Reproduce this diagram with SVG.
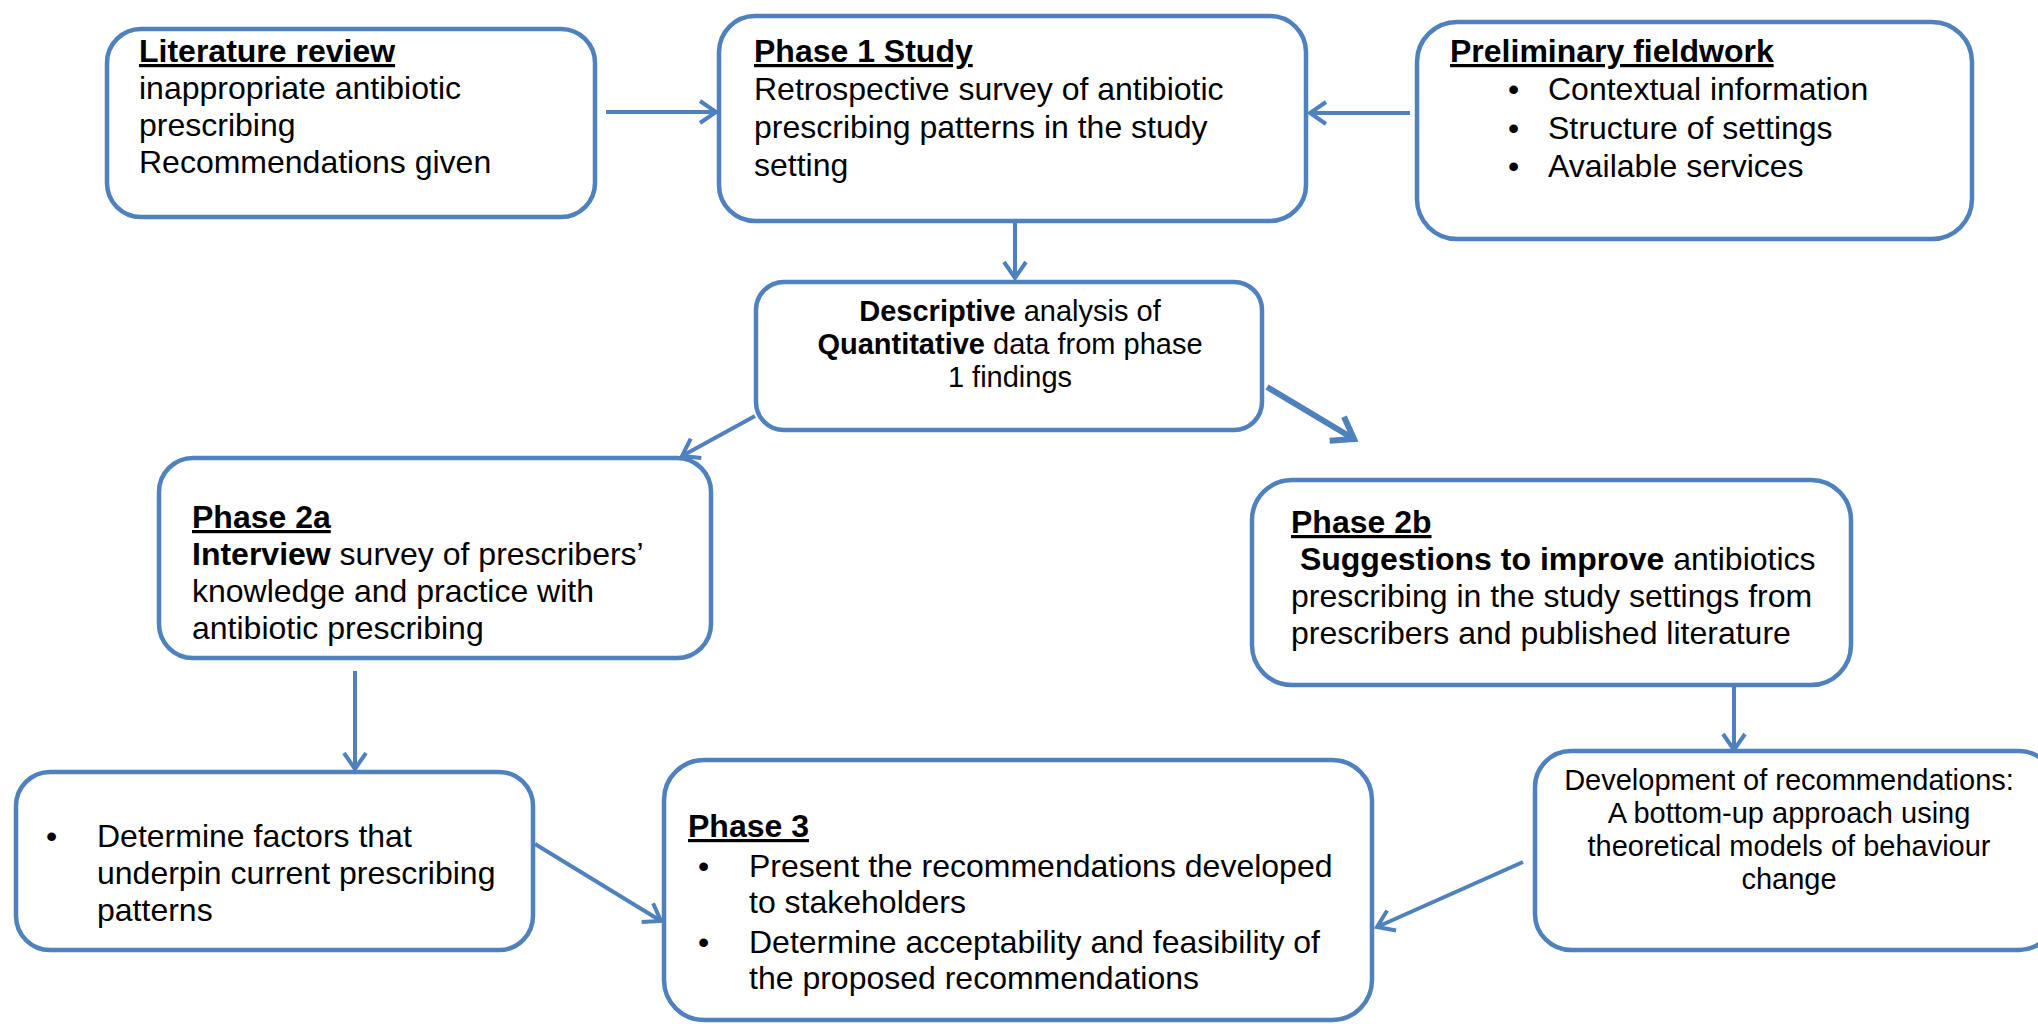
<svg xmlns="http://www.w3.org/2000/svg" width="2038" height="1024" viewBox="0 0 2038 1024">
<style>
.box{fill:#fff;stroke:#4F81BD;stroke-width:4.5}
.t{font-family:"Liberation Sans",Arial,sans-serif;font-size:32px;fill:#000}
.s{font-size:29px}
.b{font-weight:bold}
.u{font-weight:bold;text-decoration:underline}
.c{text-anchor:middle}
.con{stroke:#4F81BD;stroke-width:4;fill:none}
</style>
<defs>
<marker id="ah" markerUnits="userSpaceOnUse" markerWidth="30" markerHeight="30" viewBox="0 0 30 30" refX="26" refY="15" orient="auto">
<path d="M10,4 L26,15 L10,26" fill="none" stroke="#4F81BD" stroke-width="4"/>
</marker>
<marker id="ahb" markerUnits="userSpaceOnUse" markerWidth="40" markerHeight="40" viewBox="0 0 40 40" refX="34" refY="20" orient="auto">
<path d="M14,6 L34,20 L14,34" fill="none" stroke="#4F81BD" stroke-width="6"/>
</marker>
</defs>
<rect width="2038" height="1024" fill="#fff"/>
<g id="connectors">
<line class="con" x1="606" y1="112" x2="716" y2="112" marker-end="url(#ah)"/>
<line class="con" x1="1410" y1="113" x2="1310" y2="113" marker-end="url(#ah)"/>
<line class="con" x1="1015" y1="221" x2="1015" y2="278" marker-end="url(#ah)"/>
<line class="con" x1="755" y1="416" x2="682" y2="456" marker-end="url(#ah)"/>
<line class="con" style="stroke-width:6" x1="1267" y1="387" x2="1354" y2="439" marker-end="url(#ahb)"/>
<line class="con" x1="355" y1="671" x2="355" y2="769" marker-end="url(#ah)"/>
<line class="con" x1="1734" y1="686" x2="1734" y2="750" marker-end="url(#ah)"/>
<line class="con" x1="535" y1="844" x2="661" y2="921" marker-end="url(#ah)"/>
<line class="con" x1="1523" y1="862" x2="1377" y2="927" marker-end="url(#ah)"/>
</g>
<g id="literature-review">
<rect class="box" x="107" y="29" width="488" height="188" rx="34"/>
<text class="t" x="139" y="62"><tspan class="u">Literature review</tspan><tspan x="139" dy="37">inappropriate antibiotic</tspan><tspan x="139" dy="37">prescribing</tspan><tspan x="139" dy="37">Recommendations given</tspan></text>
</g>
<g id="phase1">
<rect class="box" x="719" y="16" width="587" height="205" rx="36"/>
<text class="t" x="754" y="62"><tspan class="u">Phase 1 Study</tspan><tspan x="754" dy="38">Retrospective survey of antibiotic</tspan><tspan x="754" dy="38">prescribing patterns in the study</tspan><tspan x="754" dy="38">setting</tspan></text>
</g>
<g id="preliminary-fieldwork">
<rect class="box" x="1417" y="22" width="555" height="217" rx="40"/>
<text class="t" x="1450" y="62"><tspan class="u">Preliminary fieldwork</tspan></text>
<text class="t" x="1508" y="100">•</text><text class="t" x="1548" y="100">Contextual information</text>
<text class="t" x="1508" y="139">•</text><text class="t" x="1548" y="139">Structure of settings</text>
<text class="t" x="1508" y="177">•</text><text class="t" x="1548" y="177">Available services</text>
</g>
<g id="descriptive">
<rect class="box" x="756" y="282" width="506" height="148" rx="28"/>
<text class="t s c" x="1010" y="321"><tspan class="b">Descriptive</tspan> analysis of</text>
<text class="t s c" x="1010" y="354"><tspan class="b">Quantitative</tspan> data from phase</text>
<text class="t s c" x="1010" y="387">1 findings</text>
</g>
<g id="phase2a">
<rect class="box" x="159" y="458" width="552" height="200" rx="34"/>
<text class="t" x="192" y="528"><tspan class="u">Phase 2a</tspan><tspan x="192" dy="37"><tspan class="b">Interview</tspan> survey of prescribers’</tspan><tspan x="192" dy="37">knowledge and practice with</tspan><tspan x="192" dy="37">antibiotic prescribing</tspan></text>
</g>
<g id="phase2b">
<rect class="box" x="1252" y="480" width="599" height="205" rx="40"/>
<text class="t" x="1291" y="533"><tspan class="u">Phase 2b</tspan><tspan x="1291" dy="37" xml:space="preserve"> <tspan class="b">Suggestions to improve</tspan> antibiotics</tspan><tspan x="1291" dy="37">prescribing in the study settings from</tspan><tspan x="1291" dy="37">prescribers and published literature</tspan></text>
</g>
<g id="development">
<rect class="box" x="1535" y="751" width="520" height="199" rx="36"/>
<text class="t s c" x="1789" y="790">Development of recommendations:</text>
<text class="t s c" x="1789" y="823">A bottom-up approach using</text>
<text class="t s c" x="1789" y="856">theoretical models of behaviour</text>
<text class="t s c" x="1789" y="889">change</text>
</g>
<g id="determine-factors">
<rect class="box" x="16" y="772" width="517" height="178" rx="34"/>
<text class="t" x="46" y="847">•</text>
<text class="t" x="97" y="847"><tspan>Determine factors that</tspan><tspan x="97" dy="37">underpin current prescribing</tspan><tspan x="97" dy="37">patterns</tspan></text>
</g>
<g id="phase3">
<rect class="box" x="664" y="760" width="708" height="260" rx="40"/>
<text class="t" x="688" y="837"><tspan class="u">Phase 3</tspan></text>
<text class="t" x="698" y="877">•</text>
<text class="t" x="749" y="877"><tspan>Present the recommendations developed</tspan><tspan x="749" dy="36">to stakeholders</tspan></text>
<text class="t" x="698" y="953">•</text>
<text class="t" x="749" y="953"><tspan>Determine acceptability and feasibility of</tspan><tspan x="749" dy="36">the proposed recommendations</tspan></text>
</g>
</svg>
